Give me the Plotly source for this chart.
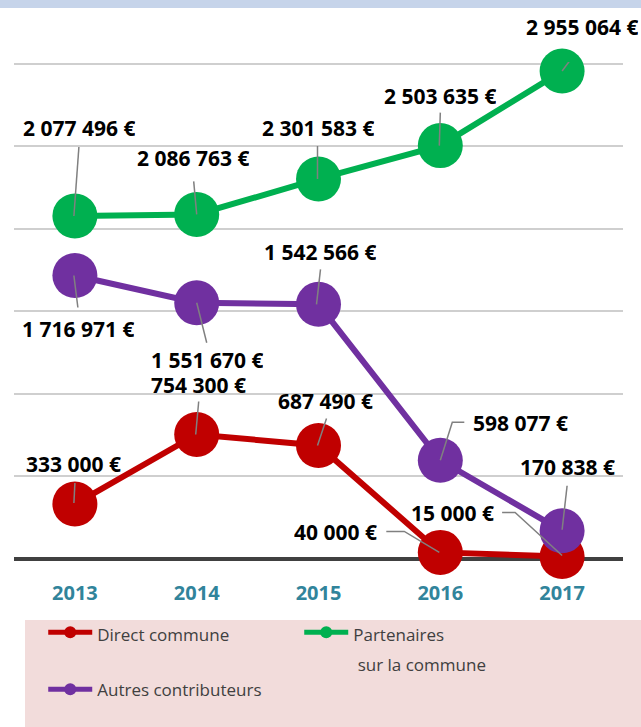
import plotly.graph_objects as go

years = ["2013", "2014", "2015", "2016", "2017"]
direct_commune = [333000, 754300, 687490, 40000, 15000]
partenaires = [2077496, 2086763, 2301583, 2503635, 2955064]
autres = [1716971, 1551670, 1542566, 598077, 170838]

series_names = ["Direct commune", "Partenaires<br> sur la commune", "Autres contributeurs"]
series_colors = ["#c00000", "#00b050", "#7030a0"]
series_legends = ["legend", "legend", "legend2"]
series_values = [direct_commune, partenaires, autres]

# label offsets (pixels) relative to each point: (xshift, yshift)
label_offsets = [
    [(-1, 40), (2, 49), (7, 44), (-105, 20), (-110, 44)],
    [(4, 88), (-4, 56), (-1, 51), (0, 50), (20, 44)],
    [(3, -53), (10, -57), (1, 52), (80, 37), (5, 64)],
]
# leader line paths (pixel offsets relative to point, y up)
leader_paths = [
    [[(0, 21), (-1, 1)], [(2, 33), (-1, 0)], [(8, 27), (-1, 0)],
     [(-54, 21), (-36, 21), (-1, 0)], [(-60, 44), (-47, 44), (0, 1)]],
    [[(4, 69), (-1, 0)], [(-3, 33), (0, 0)], [(-1, 33), (-1, 0)],
     [(0, 33), (-1, 0)], [(20, 27), (0, 0)]],
    [[(-1, 0), (3, -32)], [(0, 0), (10, -40)], [(2, 35), (-2, 0)],
     [(0, 0), (12, 38), (24, 38)], [(5, 45), (0, 1)]],
]


def fmt(v):
    return f"{v:,}".replace(",", " ") + " €"


fig = go.Figure()
for name, col, vals, lg in zip(series_names, series_colors, series_values, series_legends):
    shown = name
    if lg == "legend":
        shown = "<br>".join(f"<span style='font-size:17px'>{part}</span>" for part in name.split("<br>"))
    fig.add_trace(go.Scatter(
        x=years, y=vals, name=shown, mode="lines+markers",
        line=dict(color=col, width=6),
        marker=dict(color=col, size=45),
        cliponaxis=False, legend=lg,
    ))

shapes = []
annotations = []
for si, vals in enumerate(series_values):
    for i, v in enumerate(vals):
        pts = leader_paths[si][i]
        path = "M" + " L".join(f"{px},{py}" for px, py in pts)
        shapes.append(dict(
            type="path", xref="x", yref="y",
            xsizemode="pixel", ysizemode="pixel",
            xanchor=i, yanchor=v,
            path=path, line=dict(color="#808080", width=1.5), layer="above",
        ))
        dx, dy = label_offsets[si][i]
        annotations.append(dict(
            x=i, y=v, xref="x", yref="y", text=fmt(v), showarrow=False,
            xshift=dx, yshift=dy, borderpad=0, height=22,
            font=dict(family="Open Sans", size=21, color="#000000", weight="bold"),
        ))

# top band
shapes.append(dict(type="rect", xref="paper", yref="paper", x0=-0.1, x1=1.1,
                   y0=(559 - 8) / 497, y1=(559 + 10) / 497,
                   fillcolor="#c6d4ea", line=dict(width=0), layer="below"))
# pink legend box
shapes.append(dict(type="rect", xref="paper", yref="paper",
                   x0=(25 - 14) / 609, x1=1.1, y0=-(740 - 559) / 497, y1=-(620 - 559) / 497,
                   fillcolor="#f2dcdb", line=dict(width=0), layer="below"))

legend_common = dict(
    orientation="h", xanchor="left", yanchor="top",
    bgcolor="rgba(0,0,0,0)", itemwidth=44, itemsizing="constant",
    valign="top", traceorder="normal",
)

fig.update_layout(
    width=641, height=727,
    margin=dict(l=14, r=18, t=62, b=168, autoexpand=False),
    paper_bgcolor="white", plot_bgcolor="white",
    showlegend=True,
    legend=dict(x=0.048, y=-0.104, entrywidth=197,
                font=dict(family="Open Sans", size=23, color="#404040"), **legend_common),
    legend2=dict(x=0.048, y=-0.2266,
                 font=dict(family="Open Sans", size=17, color="#404040"), **legend_common),
    xaxis=dict(
        type="category", range=[-0.5, 4.5], showgrid=False, zeroline=False,
        showline=False, ticks="", ticklabelstandoff=20,
        tickfont=dict(family="Open Sans", size=20, color="#31849b", weight="bold"),
    ),
    yaxis=dict(
        range=[0, 3010000], dtick=500000, showticklabels=False,
        showgrid=True, gridcolor="#cfcfcf", gridwidth=1.5,
        zeroline=True, zerolinecolor="#404040", zerolinewidth=4,
    ),
    shapes=shapes,
    annotations=annotations,
)

fig.write_html("out.html", config={"displayModeBar": False},
               post_script="document.body.style.margin='0px';")
